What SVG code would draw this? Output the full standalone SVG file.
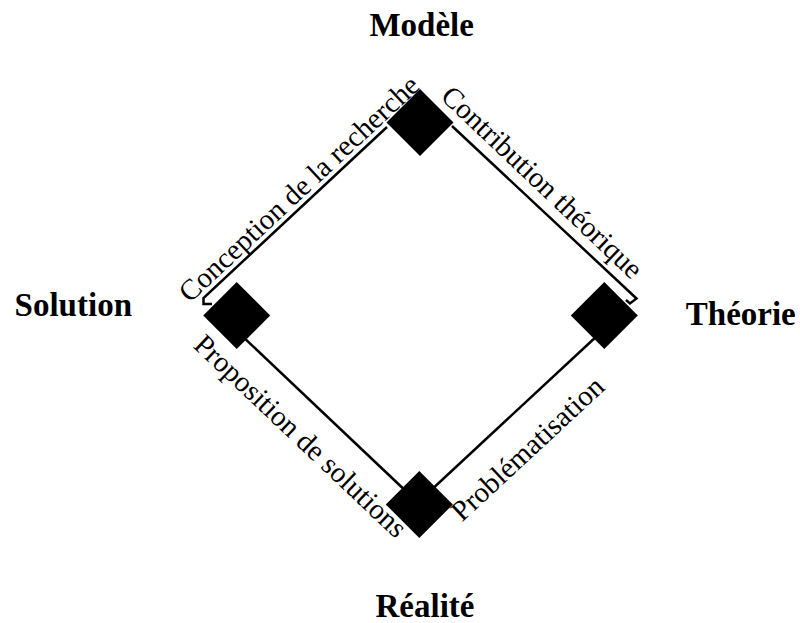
<svg xmlns="http://www.w3.org/2000/svg" xmlns:xlink="http://www.w3.org/1999/xlink" width="800" height="623" viewBox="0 0 800 623">
<style>
.title{font-family:"Liberation Serif","Times New Roman",serif;font-weight:bold;font-size:33px;fill:#000;text-anchor:middle}
.lbl{font-family:"Liberation Serif","Times New Roman",serif;font-size:29px;fill:#000;text-anchor:middle}
.edge{fill:none;stroke:#000;stroke-width:2.5}
.dia{fill:#000;stroke:none}
</style>
<defs>
<path id="diamond" class="dia" d="M0,-33.5 L33.5,0 L0,33.5 L-33.5,0 Z"/>
</defs>
<rect width="800" height="623" fill="#fff"/>
<g id="connectors">
<polyline class="edge" points="212,304 203.5,304 203.5,298 387,127"/>
<polyline class="edge" points="452,126 636.5,298.5 630,303.5 626,300"/>
<line class="edge" x1="240" y1="334" x2="410" y2="495"/>
<line class="edge" x1="428" y1="493" x2="598" y2="335"/>
<text class="lbl" x="305.5" y="195.5" transform="rotate(-43 305.5 195.5)">Conception de la recherche</text>
<text class="lbl" x="535.6" y="189.2" transform="rotate(43.5 535.6 189.2)">Contribution théorique</text>
<text class="lbl" x="294" y="443" transform="rotate(43.4 294 443)">Proposition de solutions</text>
<text class="lbl" x="534.1" y="455.7" transform="rotate(-42.9 534.1 455.7)">Problématisation</text>
</g>
<g id="node-modele">
<use xlink:href="#diamond" href="#diamond" x="420" y="122.5"/>
<text class="title" x="421.7" y="35.7">Modèle</text>
</g>
<g id="node-solution">
<use xlink:href="#diamond" href="#diamond" x="236.7" y="315.5"/>
<text class="title" x="73.3" y="316">Solution</text>
</g>
<g id="node-theorie">
<use xlink:href="#diamond" href="#diamond" x="604.3" y="315.5"/>
<text class="title" x="740.8" y="325">Théorie</text>
</g>
<g id="node-realite">
<use xlink:href="#diamond" href="#diamond" x="419.3" y="504.5"/>
<text class="title" x="425" y="616.7">Réalité</text>
</g>
</svg>
